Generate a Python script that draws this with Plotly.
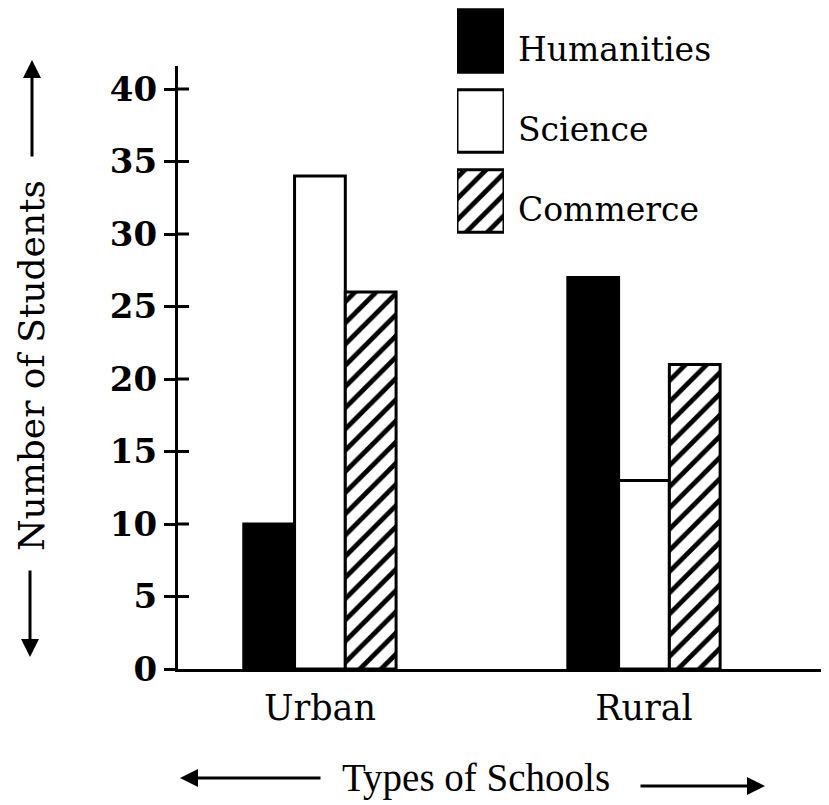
import plotly.graph_objects as go

categories = ["Urban", "Rural"]
series = ["Humanities", "Science", "Commerce"]
humanities = [10, 27]
science = [34, 13]
commerce = [26, 21]
y_ticks = [0, 5, 10, 15, 20, 25, 30, 35, 40]

values = {"Humanities": humanities, "Science": science, "Commerce": commerce}
hatch = dict(shape="/", fgcolor="black", bgcolor="white", fgopacity=1,
             size=15, solidity=0.32)
styles = {
    "Humanities": dict(color="black", line=dict(color="black", width=3)),
    "Science": dict(color="white", line=dict(color="black", width=3)),
    "Commerce": dict(color="white", line=dict(color="black", width=3), pattern=hatch),
}

# the page body adds an 8px offset; work in reference-image pixels
OFF = 8
W, H = 829 - OFF, 805 - OFF
ML, MR, MT = 178 - OFF, 0, 0
BASE = 669  # reference pixel of the zero line
MB = H - (BASE - OFF)
PW, PH = W - ML - MR, H - MT - MB


def px(x):
    return (x - OFF - ML) / PW


def py(y):
    return (BASE - y) / PH


fig = go.Figure()
for s in series:
    fig.add_trace(go.Bar(name=s, x=categories, y=values[s], marker=styles[s],
                         showlegend=False, xaxis="x", yaxis="y"))
    # legend swatch drawn on a small helper axis
    fig.add_trace(go.Bar(name=s, x=[1], y=[s], orientation="h", marker=styles[s],
                         showlegend=False, xaxis="x2", yaxis="y2", width=0.78,
                         hoverinfo="skip"))

serif = "DejaVu Serif"
main_top = 66
unit = 14.5  # pixels per student in the reference
fig.update_layout(
    width=W, height=H,
    margin=dict(l=ML, r=MR, t=MT, b=MB),
    paper_bgcolor="white", plot_bgcolor="white",
    barmode="group", bargap=0.53, bargroupgap=0,
    font=dict(family=serif, color="black"),
    xaxis=dict(domain=[0, 1], range=[-0.438, 1.571], showgrid=False, zeroline=False,
               showline=True, linecolor="black", linewidth=3, ticks="",
               tickfont=dict(family=serif, size=35), ticklabelstandoff=6,
               anchor="y"),
    yaxis=dict(domain=[0, py(main_top)], range=[0, (BASE - main_top) / unit],
               showgrid=False, zeroline=False, showline=True, linecolor="black",
               linewidth=3, ticks="outside", ticklen=11, tickwidth=3,
               tickcolor="black", tickvals=y_ticks,
               tickfont=dict(family="DejaVu Serif", size=34, weight="bold"),
               anchor="x"),
    xaxis2=dict(domain=[px(457), px(504)], range=[0, 1], visible=False, anchor="y2"),
    yaxis2=dict(domain=[py(241), 1], range=[2.5, -0.4125], visible=False,
                anchor="x2", categoryorder="array", categoryarray=series),
)

# inner half of the crossing tick marks
for t in y_ticks[1:]:
    fig.add_shape(type="line", xref="paper", yref="y", x0=0, x1=px(178 + 11),
                  y0=t, y1=t, line=dict(color="black", width=3))

# legend labels
for s in series:
    fig.add_annotation(text=s, xref="paper", yref="y2", x=px(516), y=s,
                       xanchor="left", yanchor="middle", showarrow=False,
                       yshift=-8, font=dict(family=serif, size=33))

arrow = dict(showarrow=True, arrowhead=2, arrowsize=1.2, arrowwidth=3,
             arrowcolor="black", text="", xref="paper", yref="paper")

# y axis title with arrows
fig.add_annotation(text="Number of Students", xref="paper", yref="paper",
                   x=px(31), y=py(366), xanchor="center", yanchor="middle",
                   textangle=-90, showarrow=False,
                   font=dict(family=serif, size=36))
fig.add_annotation(x=px(32), y=py(60), ax=0, ay=98, **arrow)
fig.add_annotation(x=px(30), y=py(657), ax=0, ay=-88, **arrow)

# x axis title with arrows
fig.add_annotation(text="Types of Schools", xref="paper", yref="paper",
                   x=px(476), y=py(778), xanchor="center", yanchor="middle",
                   showarrow=False, font=dict(family="Liberation Serif", size=39))
fig.add_annotation(x=px(180), y=py(778), ax=142, ay=0, **arrow)
fig.add_annotation(x=px(765), y=py(786), ax=-126, ay=0, **arrow)

fig.write_html("out.html")
